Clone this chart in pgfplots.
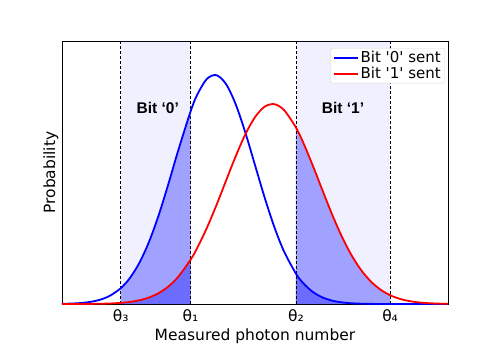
\documentclass[border=0pt]{standalone}
\usepackage{fontspec}
\setmainfont{DejaVu Sans}
\newfontfamily\dejavu{DejaVu Sans}
\newfontfamily\arialfont{Liberation Sans}
\usepackage{pgfplots}
\usepackage{pgfplotstable}
\pgfplotsset{compat=1.18}

% photon number distributions
\pgfplotstableread{
x y
0 0.00085
0.25 0.00201
0.5 0.00453
0.75 0.00962
1 0.01931
1.25 0.03666
1.52 0.0687
1.75 0.1114
2 0.1783
2.25 0.2696
2.5 0.3854
2.75 0.5204
3 0.6641
3.33 0.8400
3.5 0.9123
3.75 0.9820
4 0.9989
4.25 0.9600
4.5 0.8718
4.75 0.7481
5 0.6065
5.25 0.4647
5.5 0.3364
5.75 0.2301
6.06 0.1328
6.25 0.0908
6.5 0.0524
6.75 0.0286
7 0.0147
7.25 0.0072
7.5 0.0033
7.75 0.0014
8 0.0006
8.25 0.0002
8.5 0.0001
8.75 0
9 0
9.5 0
10 0
}\bitzero

\pgfplotstableread{
x y
0 0.00004
0.25 0.0001
0.5 0.00023
0.75 0.00053
1 0.00114
1.25 0.00235
1.52 0.0049
1.75 0.00883
2 0.01609
2.25 0.02811
2.5 0.04708
2.75 0.07562
3 0.1165
3.33 0.1932
3.5 0.2437
3.75 0.3310
4 0.4311
4.25 0.5385
4.5 0.6449
4.75 0.7407
5 0.8157
5.25 0.8614
5.5 0.8723
5.75 0.8471
6.06 0.7705
6.25 0.7042
6.5 0.6030
6.75 0.4952
7 0.3899
7.25 0.2944
7.5 0.2131
7.75 0.1479
8 0.0985
8.25 0.0629
8.5 0.0385
8.75 0.0226
9 0.0127
9.25 0.0069
9.5 0.0036
9.75 0.0018
10 0.0008
}\bitone

\begin{document}
\begin{tikzpicture}
\path[use as bounding box] (-62pt,-45pt) rectangle (436pt,304pt);
\begin{axis}[
    at={(0pt,0pt)}, anchor=south west,
    scale only axis,
    width=386pt, height=263pt,
    xmin=0, xmax=10, ymin=0, ymax=1.148,
    xtick={1.52,3.33,6.06,8.5},
    xticklabels={θ₃,θ₁,θ₂,θ₄},
    ytick=\empty,
    major tick length=0pt,
    axis line style={line width=0.6pt},
    tick label style={font=\fontsize{15.5}{18}\selectfont},
    xticklabel style={yshift=-2pt},
    label style={font=\fontsize{15.5}{18}\selectfont},
    xlabel={Measured photon number},
    xlabel style={yshift=0pt},
    ylabel={Probability},
    ylabel style={at={(axis description cs:0,0.5)}, anchor=south},
    legend style={at={(axis description cs:0.992,0.973)}, anchor=north east,
        font=\dejavu\fontsize{15}{17}\selectfont, draw=black!15, rounded corners=2pt,
        inner xsep=2pt, inner ysep=1pt, row sep=-1pt},
    legend cell align=left,
    legend image code/.code={\draw[mark repeat=2, mark phase=2, #1]
        plot coordinates {(0pt,0pt) (12pt,0pt) (24pt,0pt)};},
]
% shaded decision windows
\addplot[draw=none, fill=blue, fill opacity=0.06, forget plot]
    coordinates {(1.52,0) (1.52,1.148) (3.33,1.148) (3.33,0)} \closedcycle;
\addplot[draw=none, fill=blue, fill opacity=0.06, forget plot]
    coordinates {(6.06,0) (6.06,1.148) (8.5,1.148) (8.5,0)} \closedcycle;

% tail areas under both curves
\addplot[draw=none, fill=blue, fill opacity=0.33, smooth, forget plot,
    restrict x to domain=1.52:3.33] table {\bitzero} \closedcycle;
\addplot[draw=none, fill=blue, fill opacity=0.33, smooth, forget plot,
    restrict x to domain=1.52:3.33] table {\bitone} \closedcycle;
\addplot[draw=none, fill=blue, fill opacity=0.33, smooth, forget plot,
    restrict x to domain=6.06:8.5] table {\bitzero} \closedcycle;
\addplot[draw=none, fill=blue, fill opacity=0.33, smooth, forget plot,
    restrict x to domain=6.06:8.5] table {\bitone} \closedcycle;

% thresholds
\addplot[black, line width=0.7pt, dash pattern=on 3pt off 2pt, forget plot] coordinates {(1.52,0) (1.52,1.148)};
\addplot[black, line width=0.7pt, dash pattern=on 3pt off 2pt, forget plot] coordinates {(3.33,0) (3.33,1.148)};
\addplot[black, line width=0.7pt, dash pattern=on 3pt off 2pt, forget plot] coordinates {(6.06,0) (6.06,1.148)};
\addplot[black, line width=0.7pt, dash pattern=on 3pt off 2pt, forget plot] coordinates {(8.5,0) (8.5,1.148)};

\addplot[blue, line width=1.8pt, smooth] table {\bitzero};
\addlegendentry{Bit '0' sent}
\addplot[red, line width=1.8pt, smooth] table {\bitone};
\addlegendentry{Bit '1' sent}

\node[font=\arialfont\bfseries\fontsize{15.5}{18}\selectfont] at (axis cs:2.48,0.855) {Bit ‘0’};
\node[font=\arialfont\bfseries\fontsize{15.5}{18}\selectfont] at (axis cs:7.28,0.855) {Bit ‘1’};
\end{axis}
\end{tikzpicture}
\end{document}
